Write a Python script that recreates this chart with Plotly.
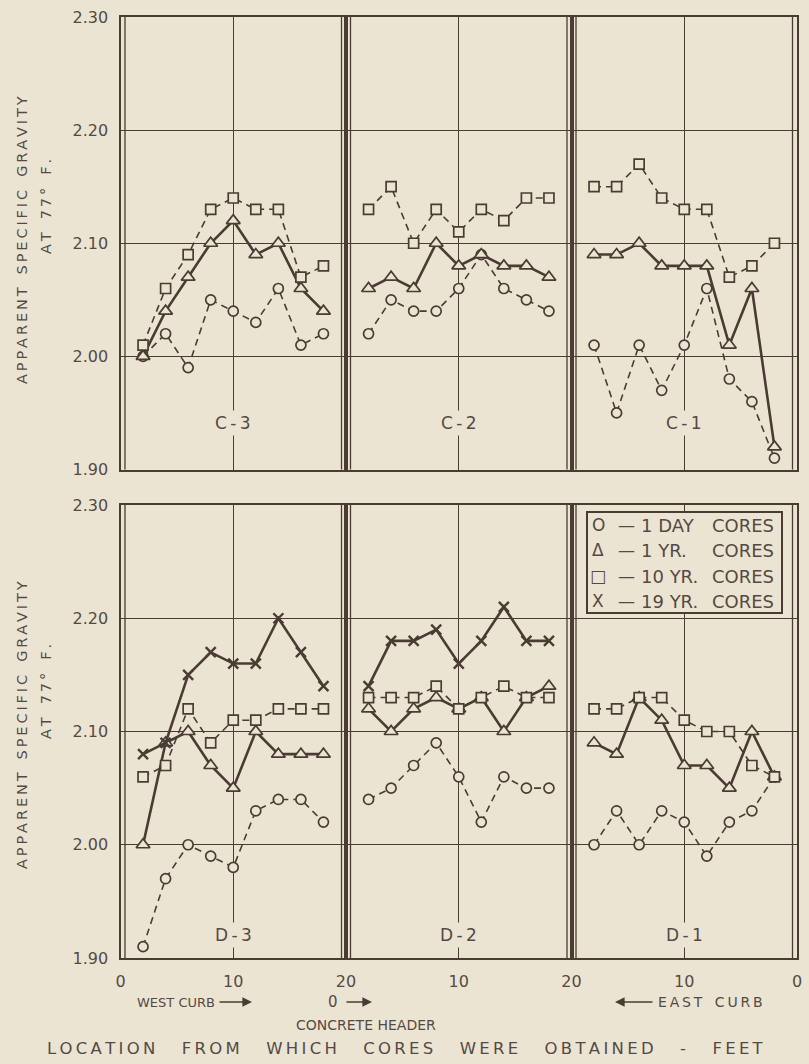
import plotly.graph_objects as go

# ---------------- data ----------------
FEET_WEST = [2, 4, 6, 8, 10, 12, 14, 16, 18]      # panels C-3/C-2, D-3/D-2 (left to right)
FEET_EAST = [18, 16, 14, 12, 10, 8, 6, 4, 2]      # panels C-1, D-1 (left to right, axis reversed)

SERIES = ["1 DAY", "1 YR.", "10 YR.", "19 YR."]

C3_1DAY = [2.00, 2.02, 1.99, 2.05, 2.04, 2.03, 2.06, 2.01, 2.02]
C3_1YR = [2.00, 2.04, 2.07, 2.10, 2.12, 2.09, 2.10, 2.06, 2.04]
C3_10YR = [2.01, 2.06, 2.09, 2.13, 2.14, 2.13, 2.13, 2.07, 2.08]

C2_1DAY = [2.02, 2.05, 2.04, 2.04, 2.06, 2.09, 2.06, 2.05, 2.04]
C2_1YR = [2.06, 2.07, 2.06, 2.10, 2.08, 2.09, 2.08, 2.08, 2.07]
C2_10YR = [2.13, 2.15, 2.10, 2.13, 2.11, 2.13, 2.12, 2.14, 2.14]

C1_1DAY = [2.01, 1.95, 2.01, 1.97, 2.01, 2.06, 1.98, 1.96, 1.91]
C1_1YR = [2.09, 2.09, 2.10, 2.08, 2.08, 2.08, 2.01, 2.06, 1.92]
C1_10YR = [2.15, 2.15, 2.17, 2.14, 2.13, 2.13, 2.07, 2.08, 2.10]

D3_1DAY = [1.91, 1.97, 2.00, 1.99, 1.98, 2.03, 2.04, 2.04, 2.02]
D3_1YR = [2.00, 2.09, 2.10, 2.07, 2.05, 2.10, 2.08, 2.08, 2.08]
D3_10YR = [2.06, 2.07, 2.12, 2.09, 2.11, 2.11, 2.12, 2.12, 2.12]
D3_19YR = [2.08, 2.09, 2.15, 2.17, 2.16, 2.16, 2.20, 2.17, 2.14]

D2_1DAY = [2.04, 2.05, 2.07, 2.09, 2.06, 2.02, 2.06, 2.05, 2.05]
D2_1YR = [2.12, 2.10, 2.12, 2.13, 2.12, 2.13, 2.10, 2.13, 2.14]
D2_10YR = [2.13, 2.13, 2.13, 2.14, 2.12, 2.13, 2.14, 2.13, 2.13]
D2_19YR = [2.14, 2.18, 2.18, 2.19, 2.16, 2.18, 2.21, 2.18, 2.18]

D1_1DAY = [2.00, 2.03, 2.00, 2.03, 2.02, 1.99, 2.02, 2.03, 2.06]
D1_1YR = [2.09, 2.08, 2.13, 2.11, 2.07, 2.07, 2.05, 2.10, 2.06]
D1_10YR = [2.12, 2.12, 2.13, 2.13, 2.11, 2.10, 2.10, 2.07, 2.06]

PANEL_NAMES = ["C-3", "C-2", "C-1", "D-3", "D-2", "D-1"]
PANELS = [
    (FEET_WEST, [C3_1DAY, C3_1YR, C3_10YR, None]),
    (FEET_WEST, [C2_1DAY, C2_1YR, C2_10YR, None]),
    (FEET_EAST, [C1_1DAY, C1_1YR, C1_10YR, None]),
    (FEET_WEST, [D3_1DAY, D3_1YR, D3_10YR, D3_19YR]),
    (FEET_WEST, [D2_1DAY, D2_1YR, D2_10YR, D2_19YR]),
    (FEET_EAST, [D1_1DAY, D1_1YR, D1_10YR, None]),
]

Y_TICKS = [1.90, 2.00, 2.10, 2.20, 2.30]
Y_TICK_TEXT = ["1.90", "2.00", "2.10", "2.20", "2.30"]

# ---------------- style ----------------
W, H = 809, 1064
BG = "#ece4d3"
INK = "#4a3b33"
TXT = "#554a43"
FONT = "DejaVu Sans"
THIN = "\u2009"


def spaced(s, word_gap="\u2002"):
    """letter-spaced lettering like the drafted original"""
    words = s.split(" ")
    return (THIN + word_gap + THIN).join(THIN.join(w) for w in words)


def px(x):
    return x / W


def py(y):
    return 1 - y / H


def note(x, y, text, size, **kw):
    d = dict(x=px(x), y=py(y), xref="paper", yref="paper", text=text, showarrow=False,
             xanchor="center", yanchor="middle",
             font=dict(family=FONT, size=size, color=TXT))
    d.update(kw)
    return d


COLS = [(120.5, 346.0), (346.0, 571.5), (571.5, 797.0)]
ROWS = [(17.0, 469.5), (505.0, 958.0)]
LABEL_Y = [423, 935]

STYLES = [
    dict(symbol="circle", size=10, dash="7px,5px", width=1.6),
    dict(symbol="triangle-up", size=12, dash="solid", width=2.6),
    dict(symbol="square", size=10, dash="7px,5px", width=1.6),
    dict(symbol="x-thin", size=10, dash="solid", width=2.6),
]

fig = go.Figure()
layout = {}
shapes = []
annotations = []

for k, (xs, series) in enumerate(PANELS):
    r, c = divmod(k, 3)
    idx = k + 1
    xname = "x" if idx == 1 else f"x{idx}"
    yname = "y" if idx == 1 else f"y{idx}"
    x0, x1 = COLS[c]
    y0, y1 = ROWS[r]
    reversed_axis = (c == 2)
    if c == 0:
        ttext = ["0", "10", "20"]
    elif c == 1:
        ttext = ["", "10", "20"]
    else:
        ttext = ["", "10", "0"]
    layout["xaxis" if idx == 1 else f"xaxis{idx}"] = dict(
        domain=[px(x0), px(x1)],
        range=[20, 0] if reversed_axis else [0, 20],
        anchor=yname,
        tickvals=[20, 10, 0] if reversed_axis else [0, 10, 20],
        ticktext=ttext,
        showticklabels=(r == 1),
        ticks="",
        showgrid=True, gridcolor=INK, gridwidth=1.2,
        zeroline=False, automargin=False,
        showline=True, linecolor=INK, linewidth=2.2, mirror=True,
        tickfont=dict(family=FONT, size=16, color=TXT),
        ticklabelstandoff=8,
        fixedrange=True,
    )
    layout["yaxis" if idx == 1 else f"yaxis{idx}"] = dict(
        domain=[py(y1), py(y0)],
        range=[1.90, 2.30],
        anchor=xname,
        tickvals=Y_TICKS,
        ticktext=Y_TICK_TEXT,
        showticklabels=(c == 0),
        ticks="",
        showgrid=True, gridcolor=INK, gridwidth=1.2,
        zeroline=False, automargin=False,
        showline=True, linecolor=INK, linewidth=2.2, mirror=True,
        tickfont=dict(family=FONT, size=16, color=TXT),
        ticklabelstandoff=7,
        fixedrange=True,
    )
    # inner double-line borders
    for xx in (x0 + 4.5, x1 - 4.5):
        shapes.append(dict(type="line", xref="paper", yref="paper",
                           x0=px(xx), x1=px(xx), y0=py(y1), y1=py(y0),
                           line=dict(color=INK, width=1.3)))
    for s, vals in enumerate(series):
        if vals is None:
            continue
        st = STYLES[s]
        fig.add_trace(go.Scatter(
            x=xs, y=vals, xaxis=xname, yaxis=yname,
            mode="lines+markers",
            line=dict(color=INK, width=st["width"], dash=st["dash"]),
            marker=dict(symbol=st["symbol"], size=st["size"], color=BG,
                        line=dict(color=INK, width=1.7 if s < 3 else 2.4)),
            showlegend=False, name=SERIES[s] + " CORES",
            cliponaxis=False,
        ))
    # panel label (masks the grid line behind it, as in the original)
    annotations.append(note((x0 + x1) / 2, LABEL_Y[r], spaced(PANEL_NAMES[k]), 17,
                            bgcolor=BG, borderpad=2))

# y-axis titles
for c1, c2 in [(240, 207), (725, 692)]:
    annotations.append(note(22, c1, spaced("APPARENT SPECIFIC GRAVITY"), 14.5, textangle=-90))
    annotations.append(note(46, c2, spaced("AT 77° F."), 14.5, textangle=-90))

# legend box
LEG_X0, LEG_X1, LEG_Y0, LEG_Y1 = 587, 782, 512, 613
shapes.append(dict(type="rect", xref="paper", yref="paper",
                   x0=px(LEG_X0), x1=px(LEG_X1), y0=py(LEG_Y1), y1=py(LEG_Y0),
                   fillcolor=BG, line=dict(color=INK, width=2), layer="above"))
LEG_SYMBOLS = ["O", "Δ", "□", "X"]
LEG_Y = [525, 550, 576, 601]
for sym, lab, yy in zip(LEG_SYMBOLS, SERIES, LEG_Y):
    annotations.append(note(598, yy, sym, 17))
    annotations.append(note(626, yy, "—", 17))
    annotations.append(note(639, yy, lab, 18, xanchor="left"))
    annotations.append(note(776, yy, "CORES", 18, xanchor="right"))

# bottom texts
annotations += [
    note(135, 1002, "WEST CURB", 13, xanchor="left"),
    note(333, 1002, "0", 15),
    note(765, 1002, spaced("EAST CURB"), 14, xanchor="right"),
    note(366, 1025, "CONCRETE HEADER", 14),
    note(405, 1048, spaced("LOCATION FROM WHICH CORES WERE OBTAINED - FEET",
                           word_gap="\u2003" + THIN), 16.5),
]
# arrows
for tip, tail in [((252, 1002), (218, 1002)), ((372, 1002), (345, 1002)), ((615, 1002), (654, 1002))]:
    annotations.append(dict(x=px(tip[0]), y=py(tip[1]), xref="paper", yref="paper",
                            ax=tail[0] - tip[0], ay=tail[1] - tip[1], axref="pixel", ayref="pixel",
                            text="", showarrow=True, arrowhead=2, arrowsize=1.2,
                            arrowwidth=1.6, arrowcolor=INK))

fig.update_layout(
    width=W, height=H,
    margin=dict(l=0, r=0, t=0, b=0, autoexpand=False),
    paper_bgcolor=BG, plot_bgcolor=BG,
    shapes=shapes, annotations=annotations,
    **layout,
)

fig.write_html(
    "out.html",
    config={"displayModeBar": False},
    post_script="document.body.style.margin='0';document.body.style.background='%s';" % BG,
)
